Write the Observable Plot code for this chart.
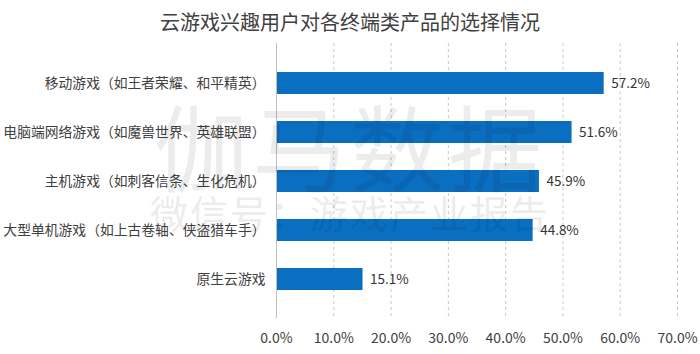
<!DOCTYPE html>
<html>
<head>
<meta charset="utf-8">
<script src="https://cdn.jsdelivr.net/npm/d3@7"></script>
<script src="https://cdn.jsdelivr.net/npm/@observablehq/plot@0.6"></script>
<style>
  html, body { margin: 0; padding: 0; background: #fff; }
  #wrap { position: relative; width: 700px; height: 354px; overflow: hidden; font-family: "Noto Sans CJK SC", sans-serif; }
  #title { height: 40px; line-height: 44px; text-align: center; font-size: 20px; color: #404040; }
  .wm { position: absolute; left: 0; width: 700px; text-align: center; color: #000; opacity: 0.07; pointer-events: none; white-space: nowrap; }
  .xax text { font-size: 14px; }
  .yax text { font-size: 13.8px; }
</style>
</head>
<body>
<div id="wrap">
  <div id="title">云游戏兴趣用户对各终端类产品的选择情况</div>
  <div id="chart"></div>
  <div class="wm" style="top:76px;font-size:94px;letter-spacing:4px;">伽马数据</div>
  <div class="wm" style="top:184px;font-size:38px;letter-spacing:2px;">微信号：游戏产业报告</div>
</div>
<script>
const categories = [
  "移动游戏（如王者荣耀、和平精英）",
  "电脑端网络游戏（如魔兽世界、英雄联盟）",
  "主机游戏（如刺客信条、生化危机）",
  "大型单机游戏（如上古卷轴、侠盗猎车手）",
  "原生云游戏"
];
const values = [0.572, 0.516, 0.459, 0.448, 0.151];
const xTicks = [0, 0.1, 0.2, 0.3, 0.4, 0.5, 0.6, 0.7];

const data = categories.map((c, i) => ({ category: c, value: values[i] }));
const fmt = d => (d * 100).toFixed(1) + "%";

const chart = Plot.plot({
  width: 700,
  height: 314,
  marginLeft: 276,
  marginRight: 23,
  marginTop: 3,
  marginBottom: 36,
  style: { fontFamily: "'Noto Sans CJK SC', sans-serif", fontSize: "13px", color: "#404040", background: "transparent" },
  x: { domain: [0, 0.7], label: null },
  y: { domain: categories, padding: 0.56, label: null },
  marks: [
    Plot.axisX({ ticks: xTicks, tickFormat: fmt, tickSize: 0, tickPadding: 15, className: "xax" }),
    Plot.axisY({ tickSize: 0, tickPadding: 11, className: "yax" }),
    Plot.ruleX(xTicks.filter(d => d > 0), { stroke: "#c8c8c8", strokeDasharray: "3,3", strokeWidth: 1 }),
    Plot.barX(data, { y: "category", x: "value", fill: "#0b6fc1" }),
    Plot.ruleX([0], { stroke: "#bfbfbf", strokeWidth: 1 }),
    Plot.text(data, { y: "category", x: "value", text: d => fmt(d.value), textAnchor: "start", dx: 7, fill: "#333", fontSize: 13.5 })
  ]
});
document.getElementById("chart").appendChild(chart);
</script>
</body>
</html>
